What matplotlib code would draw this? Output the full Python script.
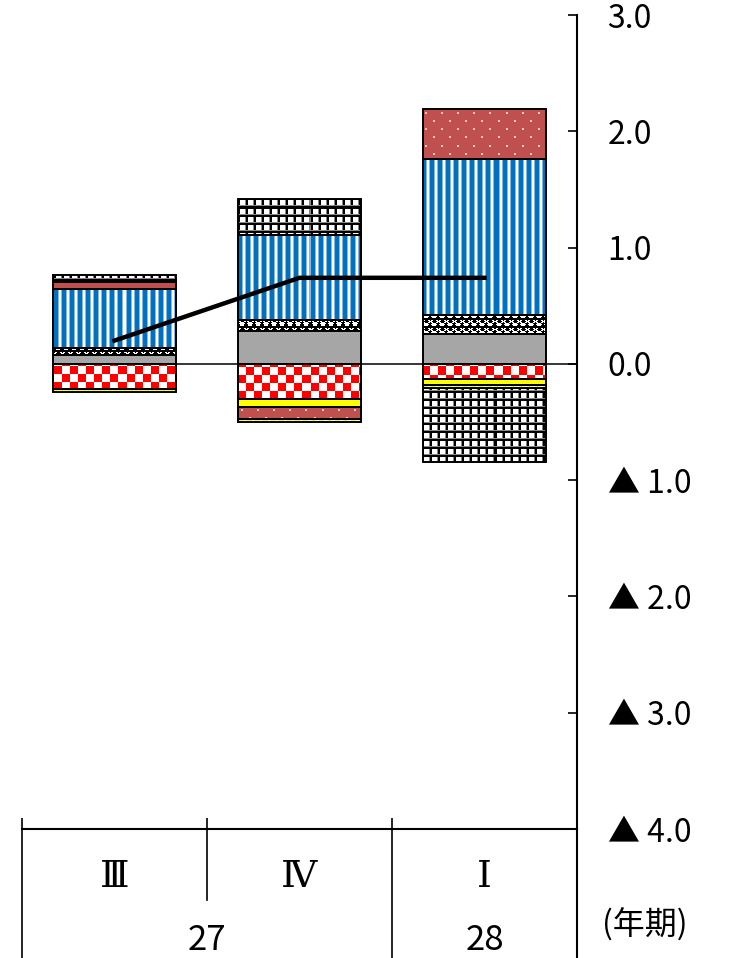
import numpy as np
import matplotlib
matplotlib.use('Agg')
import matplotlib.pyplot as plt
from matplotlib.colors import to_rgb

plt.rcParams['font.family'] = ['Noto Sans CJK JP', 'DejaVu Sans']

# 四半期と年
quarters = ['Ⅲ', 'Ⅳ', 'Ⅰ']
years = ['27', '28']
year_pos = [0.5, 2.0]

# 寄与度（積み上げ順）
gray_vals = [0.08, 0.28, 0.26]
checker_vals = [-0.22, -0.30, -0.13]
yellow_vals = [-0.02, -0.07, -0.05]
circle_vals = [0.06, 0.10, 0.16]
blue_vals = [0.50, 0.73, 1.34]
reddot_vals = [0.06, -0.10, 0.43]
dash_vals = [0.0, -0.03, -0.03]
grid_vals = [0.06, 0.31, -0.63]
# 折れ線
line_vals = [0.20, 0.74, 0.74]

yticks = [3, 2, 1, 0, -1, -2, -3, -4]
ytick_labels = ['3.0', '2.0', '1.0', '0.0', '▲ 1.0', '▲ 2.0', '▲ 3.0', '▲ 4.0']

W, H = 731, 958
fig = plt.figure(figsize=(W / 100, H / 100), dpi=100)
ax_l, ax_r, ax_t, ax_b = 22, 577, 15, 829
ax = fig.add_axes([ax_l / W, (H - ax_b) / H, (ax_r - ax_l) / W, (ax_b - ax_t) / H])
aw, ah = ax_r - ax_l, ax_b - ax_t

# 塗りつぶし模様（文字→色）
pal = {'K': 'black', 'w': 'white', 'g': '#888888', 'B': '#0070C0', 'm': '#86b8e2',
       'R': '#FF0000', 'r': '#C0504D', 'p': '#F3C9C8', 'Y': '#FFFF00', 'G': '#A6A6A6'}

def tile(rows):
    return np.array([[to_rgb(pal[c]) for c in row] for row in rows])

def texture(t):
    th, tw = t.shape[:2]
    return np.tile(t, (ah // th + 1, aw // tw + 1, 1))[:ah, :aw]

tex_gray = texture(tile(['G']))
tex_yellow = texture(tile(['Y']))
tex_blue = texture(tile(['BBBBmwwm']))
tex_checker = texture(tile(['RRRRRRRRwwwwwwww'] * 8 + ['wwwwwwwwRRRRRRRR'] * 8))
tex_grid = texture(tile(['KKKKKKKK'] * 2 + ['KKwwwwwg'] * 5 + ['gggggggg']))
tex_dash = texture(tile(['YYYYYwww']))
dot_a = ['r' * 16] * 2 + ['rrrppr' + 'r' * 10] * 2 + ['r' * 16] * 4
dot_b = ['r' * 16] * 2 + ['r' * 11 + 'pprrr'] * 2 + ['r' * 16] * 4
tex_reddot = texture(tile(dot_a + dot_b))
tex_circle = texture(tile(['KKKKKKKK', 'KwwKKKww', 'wwKKKKKw', 'KwwKKKww',
                           'KKwwwwKK', 'KwwwwwwK', 'KKwwwwKK', 'KKKKKKKK']))

series = [(gray_vals, tex_gray), (checker_vals, tex_checker), (yellow_vals, tex_yellow),
          (circle_vals, tex_circle), (blue_vals, tex_blue), (reddot_vals, tex_reddot),
          (dash_vals, tex_dash), (grid_vals, tex_grid)]

x = np.arange(len(quarters))
width = 0.67
xlim = (-0.5, 2.5)
ylim = (-4, 3)

pos_base = np.zeros(len(x))
neg_base = np.zeros(len(x))
for vals, tex in series:
    vals = np.array(vals)
    bottom = np.where(vals >= 0, pos_base, neg_base)
    bars = ax.bar(x, vals, width, bottom=bottom, color='none', edgecolor='black',
                  linewidth=1.4, zorder=3)
    for patch, v in zip(bars.patches, vals):
        if v == 0:
            patch.set_visible(False)
            continue
        im = ax.imshow(tex, extent=(xlim[0], xlim[1], ylim[0], ylim[1]), aspect='auto',
                       interpolation='nearest', zorder=2)
        im.set_clip_path(patch)
    pos_base += np.clip(vals, 0, None)
    neg_base += np.clip(vals, None, 0)

ax.hlines(0, x[0] - width / 2, xlim[1], color='black', lw=1.1, zorder=1)
ax.plot(x, line_vals, color='black', lw=3.2, zorder=5)

ax.set_xlim(*xlim)
ax.set_ylim(*ylim)

ax.spines['left'].set_visible(False)
ax.spines['top'].set_visible(False)
ax.spines['right'].set_linewidth(1.5)
ax.spines['bottom'].set_linewidth(1.5)

ax.yaxis.tick_right()
ax.set_yticks(yticks)
ax.set_yticklabels(ytick_labels)
ax.tick_params(axis='y', direction='in', length=6.5, width=1.2, pad=22, labelsize=23)
ax.set_xticks([-0.5, 0.5, 1.5])
ax.set_xticklabels([])
ax.tick_params(axis='x', direction='in', length=8, width=1.2)

# 下の区切り線と期のラベル
trans = ax.get_xaxis_transform()
y_end = -(H - ax_b + 5) / ah
y_mid = -(900 - ax_b) / ah
for xv, yv, lw in [(-0.5, y_end, 1.2), (0.5, y_mid, 1.2), (1.5, y_end, 1.2), (2.5, y_end, 1.5)]:
    ax.plot([xv, xv], [0, yv], transform=trans, clip_on=False, color='black', lw=lw)

for xv, q in zip(x, quarters):
    ax.text(xv, -(877 - ax_b) / ah, q, transform=trans, ha='center', va='center',
            fontsize=27, family=['DejaVu Serif', 'Noto Sans CJK JP'])
for xv, yr in zip(year_pos, years):
    ax.text(xv, -(941 - ax_b) / ah, yr, transform=trans, ha='center', va='center', fontsize=25)

fig.text(645 / W, 1 - 925 / H, '(年期)', ha='center', va='center', fontsize=23)

fig.savefig('out.png', dpi=100)
